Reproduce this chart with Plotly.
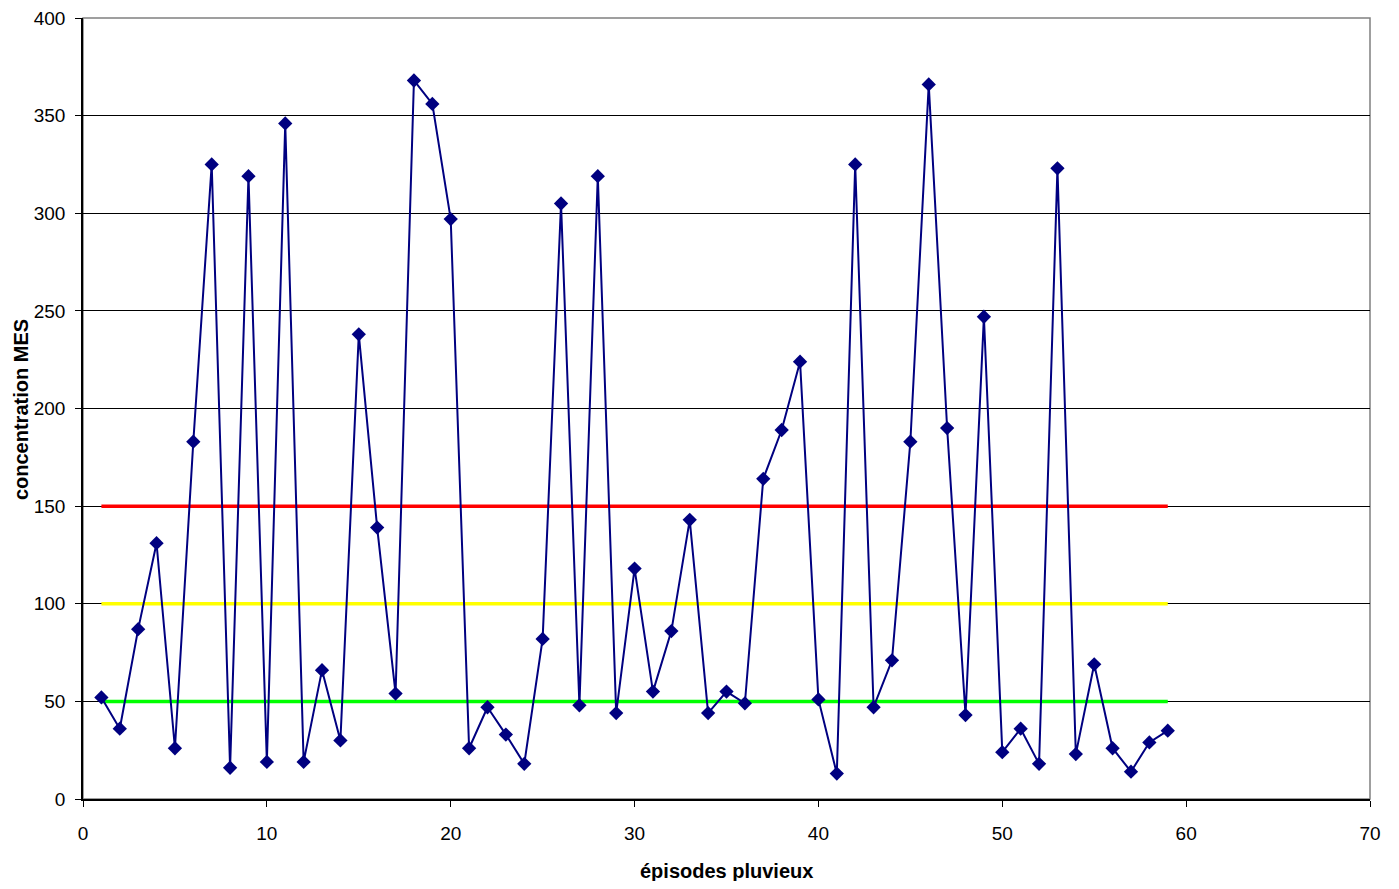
import plotly.graph_objects as go

episodes = list(range(1, 60))
mes = [52, 36, 87, 131, 26, 183, 325, 16, 319, 19,
       346, 19, 66, 30, 238, 139, 54, 368, 356, 297,
       26, 47, 33, 18, 82, 305, 48, 319, 44, 118,
       55, 86, 143, 44, 55, 49, 164, 189, 224, 51,
       13, 325, 47, 71, 183, 366, 190, 43, 247, 24,
       36, 18, 323, 23, 69, 26, 14, 29, 35]

thresholds = [150, 100, 50]
threshold_colors = ["#FF0000", "#FFFF00", "#00FF00"]

x_title = "épisodes pluvieux"
y_title = "concentration MES"

fig = go.Figure()
for t, c in zip(thresholds, threshold_colors):
    fig.add_trace(go.Scatter(x=[episodes[0], episodes[-1]], y=[t, t], mode="lines",
                             line=dict(color=c, width=3.5), hoverinfo="skip", showlegend=False))

fig.add_trace(go.Scatter(x=episodes, y=mes, mode="lines+markers",
                         line=dict(color="#000080", width=2),
                         marker=dict(symbol="diamond", size=11, color="#000080"),
                         showlegend=False))

fnt = "Liberation Sans, Arial, sans-serif"
fig.update_layout(
    width=1383, height=873,
    margin=dict(l=75, r=21, t=10, b=82),
    paper_bgcolor="white", plot_bgcolor="white",
    font=dict(family=fnt, size=19, color="black"),
    shapes=[dict(type="rect", xref="paper", yref="paper", x0=0, x1=1, y0=0, y1=1,
                 line=dict(color="#808080", width=1.5), layer="below")],
    annotations=[
        dict(text="<b>" + x_title + "</b>", xref="paper", yref="paper", x=0.5, y=0,
             yshift=-72, showarrow=False, xanchor="center", yanchor="middle",
             font=dict(family=fnt, size=20, color="black")),
        dict(text="<b>" + y_title + "</b>", xref="paper", yref="paper", x=0, y=0.498,
             xshift=-62, showarrow=False, xanchor="center", yanchor="middle", textangle=-90,
             font=dict(family=fnt, size=20, color="black")),
    ],
)
fig.update_xaxes(range=[0, 70], tickvals=list(range(0, 71, 10)), showgrid=False,
                 showline=True, linecolor="black", linewidth=1.5,
                 ticks="outside", ticklen=6, tickcolor="black", ticklabelstandoff=10,
                 ticklabeloverflow="allow", automargin=False, zeroline=False)
fig.update_yaxes(range=[0, 400], tickvals=list(range(0, 401, 50)), showgrid=True,
                 gridcolor="black", gridwidth=1,
                 showline=True, linecolor="black", linewidth=1.5,
                 ticks="outside", ticklen=6, tickcolor="black", ticklabelstandoff=6,
                 ticklabeloverflow="allow", automargin=False, zeroline=False)

fig.write_html("out.html")
